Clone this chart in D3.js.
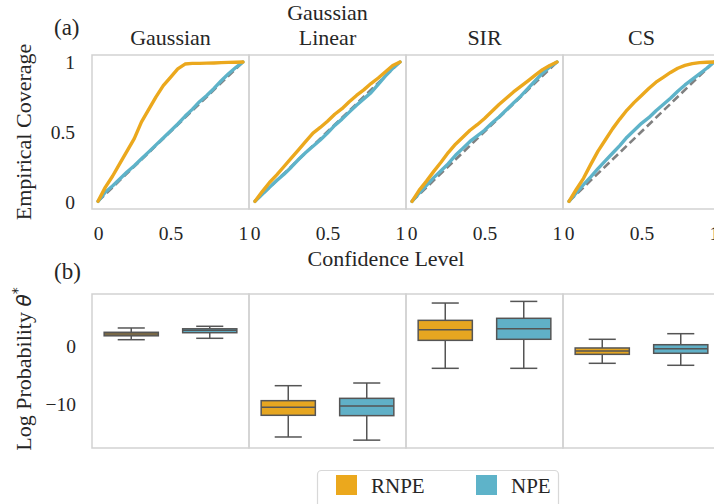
<!DOCTYPE html>
<html>
<head>
<meta charset="utf-8">
<script src="https://cdn.jsdelivr.net/npm/d3@7"></script>
<style>
  html, body { margin: 0; padding: 0; background: #fff; }
  svg { display: block; }
  text { font-family: "Liberation Serif", "Times New Roman", serif; fill: #262626; }
</style>
</head>
<body>
<svg id="chart" width="714" height="504"></svg>
<script>
// ---- data ----
const datasets = ["Gaussian", "Gaussian\nLinear", "SIR", "CS"];
const methods = ["RNPE", "NPE"];
const colors = { RNPE: "#EBA81D", NPE: "#5EB3C9" };
const boxColors = { RNPE: "#E6A621", NPE: "#60B0C7" };

// confidence levels at which coverage was evaluated
const levels = [0, 0.05, 0.1, 0.15, 0.2, 0.25, 0.3, 0.35, 0.4, 0.45, 0.5,
                0.55, 0.6, 0.65, 0.7, 0.75, 0.8, 0.85, 0.9, 0.95, 1];

// empirical coverage per dataset
const coverageRNPE = [
  [0, 0.10, 0.18, 0.27, 0.36, 0.45, 0.57, 0.66, 0.75, 0.83, 0.89, 0.95, 0.985, 0.99, 0.99, 0.992, 0.993, 0.995, 0.997, 0.998, 1],
  [0, 0.07, 0.135, 0.19, 0.25, 0.31, 0.37, 0.43, 0.49, 0.53, 0.575, 0.625, 0.665, 0.715, 0.76, 0.80, 0.845, 0.885, 0.93, 0.975, 1],
  [0, 0.08, 0.145, 0.215, 0.28, 0.35, 0.41, 0.46, 0.51, 0.55, 0.595, 0.645, 0.695, 0.74, 0.785, 0.825, 0.865, 0.905, 0.945, 0.975, 1],
  [0, 0.085, 0.165, 0.265, 0.36, 0.44, 0.52, 0.59, 0.655, 0.71, 0.76, 0.81, 0.855, 0.89, 0.925, 0.955, 0.975, 0.988, 0.995, 0.998, 1]
];
const coverageNPE = [
  [0, 0.065, 0.11, 0.16, 0.21, 0.255, 0.305, 0.355, 0.405, 0.455, 0.505, 0.555, 0.61, 0.66, 0.715, 0.76, 0.81, 0.865, 0.915, 0.96, 1],
  [0, 0.05, 0.10, 0.15, 0.195, 0.245, 0.30, 0.35, 0.395, 0.44, 0.49, 0.545, 0.59, 0.64, 0.69, 0.735, 0.78, 0.84, 0.90, 0.955, 1],
  [0, 0.06, 0.115, 0.17, 0.22, 0.27, 0.33, 0.38, 0.43, 0.47, 0.51, 0.56, 0.605, 0.655, 0.705, 0.755, 0.81, 0.865, 0.92, 0.965, 1],
  [0, 0.06, 0.12, 0.175, 0.235, 0.29, 0.345, 0.40, 0.46, 0.51, 0.56, 0.60, 0.65, 0.695, 0.74, 0.79, 0.835, 0.875, 0.915, 0.955, 1]
];

// log probability of true parameter: [whisker low, q1, median, q3, whisker high]
const logProbRNPE = [
  [1.03, 1.7, 2.0, 2.3, 3.04],
  [-15.66, -11.94, -10.57, -9.43, -6.86],
  [-3.88, 0.92, 2.74, 4.35, 7.32],
  [-3.02, -1.48, -0.91, -0.39, 1.1]
];
const logProbNPE = [
  [1.27, 2.23, 2.64, 2.9, 3.33],
  [-16.2, -12.0, -10.34, -9.03, -6.4],
  [-3.88, 1.1, 2.92, 4.7, 7.6],
  [-3.36, -1.3, -0.51, 0.17, 2.06]
];

const coverageTicks = [0, 0.5, 1];
const coverageTickLabels = ["0", "0.5", "1"];
const logProbTicks = [0, -10];

// ---- layout ----
const svg = d3.select("#chart");
const panelLeft = 92, panelW = 157;
const topY0 = 55, topY1 = 209;
const botY0 = 294, botY1 = 448;
const frameColor = "#d2d2d2";

const xCov = i => d3.scaleLinear().domain([-0.0414, 1.0414]).range([panelLeft + i * panelW, panelLeft + (i + 1) * panelW]);
const yCov = d3.scaleLinear().domain([-0.055, 1.05]).range([topY1, topY0]);
const yLog = d3.scaleLinear().domain([-17.55, 8.87]).range([botY1, botY0]);
const xGroup = i => d3.scaleBand().domain(methods).range([panelLeft + i * panelW, panelLeft + (i + 1) * panelW]).paddingInner(0.31).paddingOuter(0.155);

// ---- (a) coverage panels ----
datasets.forEach((name, i) => {
  const xs = xCov(i);
  const g = svg.append("g");
  const x0 = xs.range()[0], x1 = xs.range()[1];

  // diagonal reference
  const diag = d3.line().x(d => xs(d)).y(d => yCov(d));
  g.append("path").attr("d", diag([0, 1]))
    .attr("stroke", "#808080").attr("stroke-width", 2.6)
    .attr("stroke-dasharray", "8,4").attr("fill", "none");

  const line = d3.line().x((d, k) => xs(levels[k])).y(d => yCov(d));
  [["NPE", coverageNPE[i]], ["RNPE", coverageRNPE[i]]].forEach(([m, vals]) => {
    g.append("path").attr("d", line(vals))
      .attr("stroke", colors[m]).attr("stroke-width", 3.4)
      .attr("stroke-linejoin", "round").attr("stroke-linecap", "round")
      .attr("fill", "none");
  });

  // frame
  g.append("rect").attr("x", x0).attr("y", topY0).attr("width", x1 - x0).attr("height", topY1 - topY0)
    .attr("fill", "none").attr("stroke", frameColor).attr("stroke-width", 1.5);

  // x ticks
  const xa = d3.axisBottom(xs).tickValues(coverageTicks).tickFormat((d, k) => coverageTickLabels[k]).tickSize(0).tickPadding(0);
  const ax = g.append("g").attr("transform", `translate(0,${topY1})`).call(xa);
  ax.select(".domain").remove();
  ax.selectAll("text").attr("y", 31).attr("dy", null).style("font-size", "19.5px")
    .style("font-family", '"Liberation Serif", serif').attr("fill", "#262626");

  // title
  const lines = name.split("\n");
  const cx = (x0 + x1) / 2;
  lines.forEach((t, k) => {
    svg.append("text").attr("x", cx).attr("y", 44.5 - (lines.length - 1 - k) * 24.5)
      .attr("text-anchor", "middle").style("font-size", "22px").text(t);
  });
});

// y axis for coverage
{
  const ya = d3.axisLeft(yCov).tickValues(coverageTicks).tickFormat((d, k) => coverageTickLabels[k]).tickSize(0).tickPadding(17);
  const ay = svg.append("g").attr("transform", `translate(${panelLeft},0)`).call(ya);
  ay.select(".domain").remove();
  ay.selectAll("text").style("font-size", "19.5px").style("font-family", '"Liberation Serif", serif')
    .attr("fill", "#262626").attr("dy", "0.35em");
}

svg.append("text").attr("transform", `translate(31,${(topY0 + topY1) / 2}) rotate(-90)`)
  .attr("text-anchor", "middle").style("font-size", "22px").text("Empirical Coverage");
svg.append("text").attr("x", 386).attr("y", 266).attr("text-anchor", "middle")
  .style("font-size", "22px").text("Confidence Level");
svg.append("text").attr("x", 54).attr("y", 35).style("font-size", "23px").text("(a)");

// ---- (b) log probability boxplots ----
datasets.forEach((name, i) => {
  const xb = xGroup(i);
  const g = svg.append("g");
  [["RNPE", logProbRNPE[i]], ["NPE", logProbNPE[i]]].forEach(([m, s]) => {
    const [lo, q1, med, q3, hi] = s;
    const bx = xb(m), bw = xb.bandwidth(), c = bx + bw / 2;
    const edge = "#555555";
    g.append("line").attr("x1", c).attr("x2", c).attr("y1", yLog(hi)).attr("y2", yLog(q3))
      .attr("stroke", edge).attr("stroke-width", 1.5);
    g.append("line").attr("x1", c).attr("x2", c).attr("y1", yLog(q1)).attr("y2", yLog(lo))
      .attr("stroke", edge).attr("stroke-width", 1.5);
    [hi, lo].forEach(v => g.append("line").attr("x1", c - bw / 4).attr("x2", c + bw / 4)
      .attr("y1", yLog(v)).attr("y2", yLog(v)).attr("stroke", edge).attr("stroke-width", 1.5));
    g.append("rect").attr("x", bx).attr("width", bw).attr("y", yLog(q3)).attr("height", yLog(q1) - yLog(q3))
      .attr("fill", boxColors[m]).attr("stroke", edge).attr("stroke-width", 1.5);
    g.append("line").attr("x1", bx).attr("x2", bx + bw).attr("y1", yLog(med)).attr("y2", yLog(med))
      .attr("stroke", edge).attr("stroke-width", 1.5);
  });
  const x0 = panelLeft + i * panelW;
  g.append("rect").attr("x", x0).attr("y", botY0).attr("width", panelW).attr("height", botY1 - botY0)
    .attr("fill", "none").attr("stroke", frameColor).attr("stroke-width", 1.5);
});

{
  const ya = d3.axisLeft(yLog).tickValues(logProbTicks).tickFormat(d => d < 0 ? "\u2212" + Math.abs(d) : d).tickSize(0).tickPadding(16);
  const ay = svg.append("g").attr("transform", `translate(${panelLeft},0)`).call(ya);
  ay.select(".domain").remove();
  ay.selectAll("text").style("font-size", "19.5px").style("font-family", '"Liberation Serif", serif')
    .attr("fill", "#262626").attr("dy", "0.35em");
}

{
  const t = svg.append("text").attr("transform", `translate(31,${(botY0 + botY1) / 2 - 2}) rotate(-90)`)
    .attr("text-anchor", "middle").style("font-size", "22px");
  t.append("tspan").text("Log Probability ");
  t.append("tspan").style("font-family", '"DejaVu Sans", sans-serif').style("font-style", "italic")
    .style("font-size", "20px").text("\u03B8");
  t.append("tspan").attr("dy", "-9").style("font-family", '"DejaVu Sans", sans-serif')
    .style("font-size", "14px").text("*");
}
svg.append("text").attr("x", 54).attr("y", 279).style("font-size", "23px").text("(b)");

// ---- legend ----
{
  const lg = svg.append("g");
  lg.append("rect").attr("x", 317.5).attr("y", 470.5).attr("width", 241).attr("height", 48).attr("rx", 4)
    .attr("fill", "#fff").attr("stroke", "#d8d8d8").attr("stroke-width", 1.2);
  const items = [{ m: "RNPE", x: 336 }, { m: "NPE", x: 476 }];
  items.forEach(it => {
    lg.append("rect").attr("x", it.x).attr("y", 475).attr("width", 21).attr("height", 20).attr("fill", colors[it.m]);
    lg.append("text").attr("x", it.x + 35).attr("y", 493).style("font-size", "21px").text(it.m);
  });
}
</script>
</body>
</html>
